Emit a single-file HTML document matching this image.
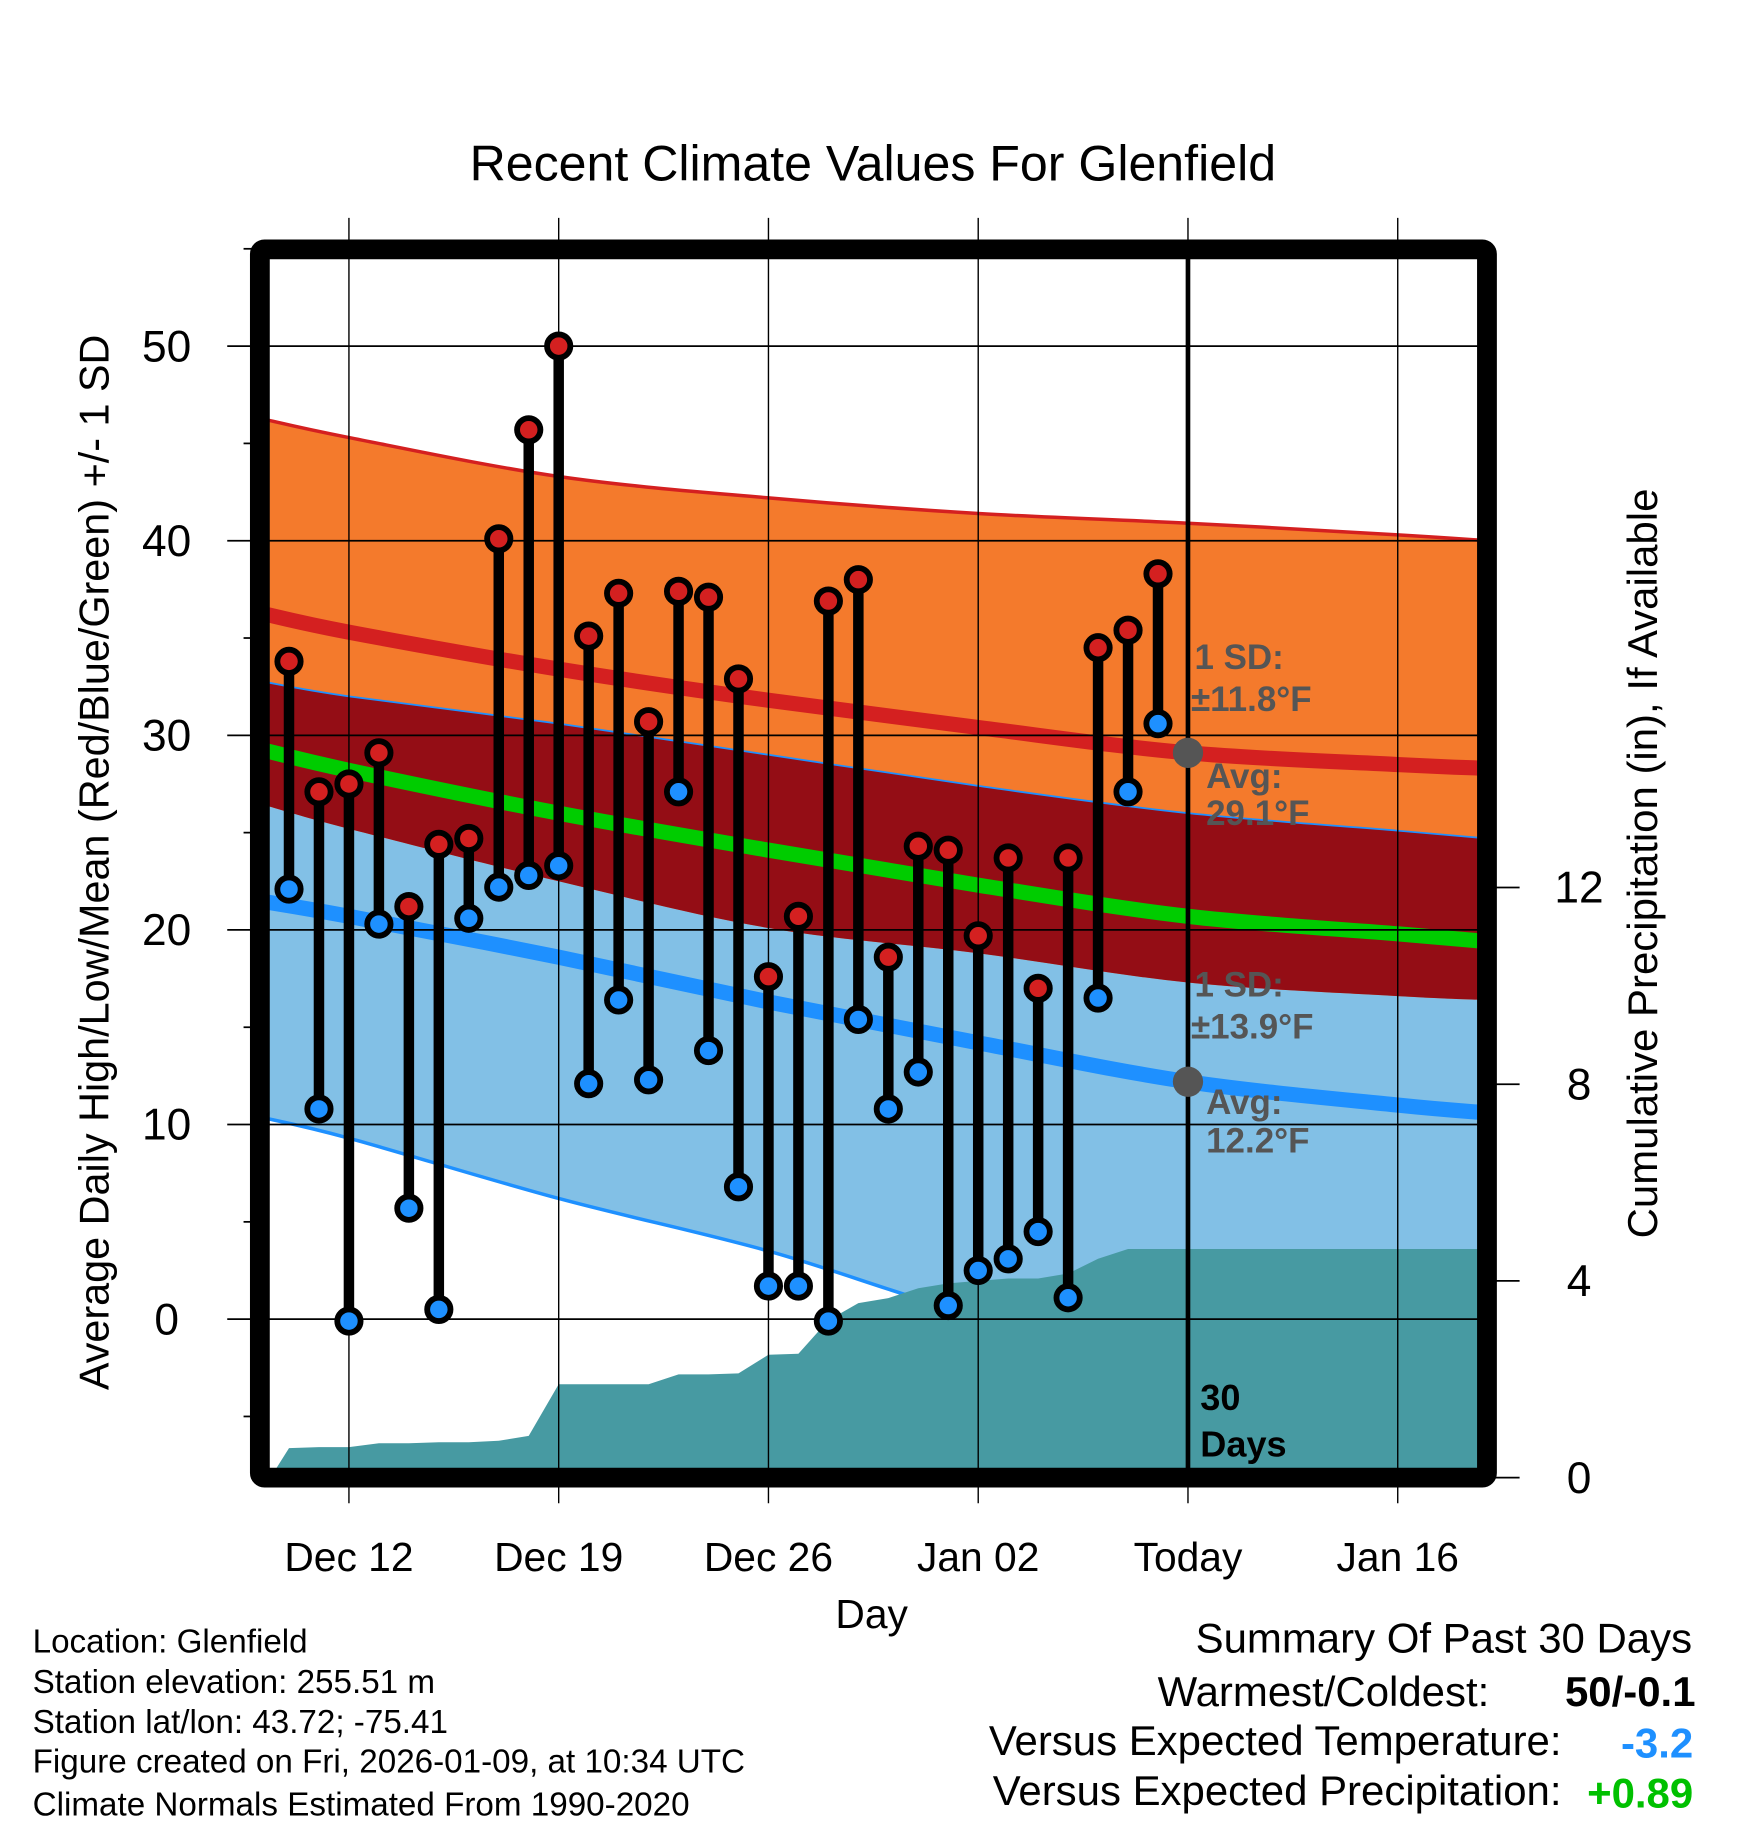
<!DOCTYPE html>
<html><head><meta charset="utf-8"><style>
html,body{margin:0;padding:0;background:#fff;}
svg{display:block;font-family:"Liberation Sans",sans-serif;}
</style></head><body>
<svg id="chart" width="1748" height="1828" viewBox="0 0 1500 1568.65" xmlns="http://www.w3.org/2000/svg">
<defs><clipPath id="plotclip"><rect x="231" y="222" width="1037" height="1038"/></clipPath></defs>
<g id="bands" clip-path="url(#plotclip)"></g>
<g id="grid"></g>
<g id="marks" clip-path="url(#plotclip)"></g>
<rect x="223" y="214" width="1053" height="1054" rx="4" fill="none" stroke="#000" stroke-width="17"/>
<g id="axes"></g>
<text x="749" y="155" font-size="43" text-anchor="middle">Recent Climate Values For Glenfield</text>
<text transform="translate(93,740) rotate(-90)" font-size="35.5" text-anchor="middle">Average Daily High/Low/Mean (Red/Blue/Green) +/- 1 SD</text>
<text transform="translate(1422,741) rotate(-90)" font-size="36" text-anchor="middle">Cumulative Precipitation (in), If Available</text>
<text x="748" y="1397" font-size="35" text-anchor="middle">Day</text>
<g font-size="28.5">
<text x="28" y="1418">Location: Glenfield</text>
<text x="28" y="1453">Station elevation: 255.51 m</text>
<text x="28" y="1487">Station lat/lon: 43.72; -75.41</text>
<text x="28" y="1521">Figure created on Fri, 2026-01-09, at 10:34 UTC</text>
<text x="28" y="1558">Climate Normals Estimated From 1990-2020</text>
</g>
<g font-size="36" text-anchor="end">
<text x="1452" y="1418">Summary Of Past 30 Days</text>
<text x="1278" y="1464">Warmest/Coldest:</text>
<text x="1455" y="1464" font-weight="bold">50/-0.1</text>
<text x="1340" y="1506">Versus Expected Temperature:</text>
<text x="1453" y="1508" font-weight="bold" fill="#1e90ff">-3.2</text>
<text x="1340" y="1549">Versus Expected Precipitation:</text>
<text x="1453" y="1551" font-weight="bold" fill="#00c000">+0.89</text>
</g>
</svg>
<script>
// day index 0 = Dec 10
const highs=[33.8,27.1,27.5,29.1,21.2,24.4,24.7,40.1,45.7,50.0,35.1,37.3,30.7,37.4,37.1,32.9,17.6,20.7,36.9,38.0,18.6,24.3,24.1,19.7,23.7,17.0,23.7,34.5,35.4,38.3];
const lows=[22.1,10.8,-0.1,20.3,5.7,0.5,20.6,22.2,22.8,23.3,12.1,16.4,12.3,27.1,13.8,6.8,1.7,1.7,-0.1,15.4,10.8,12.7,0.7,2.5,3.1,4.5,1.1,16.5,27.1,30.6];
const precip=[0.6,0.62,0.62,0.7,0.7,0.72,0.72,0.75,0.85,1.9,1.9,1.9,1.9,2.1,2.1,2.12,2.5,2.52,3.2,3.55,3.65,3.85,3.95,4.0,4.05,4.05,4.15,4.45,4.65,4.65];
const normDays=[-1,2,9,16,23,30,37,40];
const highPlus=[46.3,45.3,43.3,42.2,41.4,40.9,40.3,40.0];
const highMean=[36.3,35.3,33.4,31.8,30.4,29.1,28.5,28.3];
const highMinus=[26.5,25.2,22.5,20.1,18.8,17.3,16.6,16.4];
const lowPlus=[32.8,32.0,30.6,29.0,27.4,26.0,25.1,24.7];
const lowMean=[21.5,20.7,18.6,16.3,14.2,12.2,11.0,10.6];
const lowMinus=[10.4,9.3,6.2,3.5,0.2,-1.6,-2.7,-3.2];
const meanLine=[29.3,28.2,26.0,24.1,22.3,20.7,19.8,19.4];
const xTickDays=[2,9,16,23,30,37];
const xTickLabels=["Dec 12","Dec 19","Dec 26","Jan 02","Today","Jan 16"];
const yTicks=[0,10,20,30,40,50];
const yMinor=[-5,5,15,25,35,45,55];
const pTicks=[0,4,8,12];
const todayDay=30, todayHigh=29.1, todayLow=12.2;

const NS="http://www.w3.org/2000/svg";
const X=d=>248+d*(180/7);
const Y=t=>1132-t*16.7;
const P=p=>1268-p*42.2;
function mk(tag,attrs,parent){const e=document.createElementNS(NS,tag);for(const k in attrs)e.setAttribute(k,attrs[k]);parent.appendChild(e);return e;}
const bands=document.getElementById('bands'),grid=document.getElementById('grid'),marks=document.getElementById('marks'),axes=document.getElementById('axes');
function segs(pts){let d='';
 for(let i=0;i<pts.length-1;i++){const p0=pts[Math.max(0,i-1)],p1=pts[i],p2=pts[i+1],p3=pts[Math.min(pts.length-1,i+2)];
  d+=' C'+(p1[0]+(p2[0]-p0[0])/6)+','+(p1[1]+(p2[1]-p0[1])/6)+' '+(p2[0]-(p3[0]-p1[0])/6)+','+(p2[1]-(p3[1]-p1[1])/6)+' '+p2[0]+','+p2[1];}
 return d;}
function curve(arr){const pts=normDays.map((d,i)=>[X(d),Y(arr[i])]);return 'M'+pts[0][0]+','+pts[0][1]+segs(pts);}
function rev(arr){const pts=normDays.map((d,i)=>[X(d),Y(arr[i])]).reverse();return ' L'+pts[0][0]+','+pts[0][1]+segs(pts)+' Z';}
let e;
e=mk('path',{d:curve(lowPlus)+rev(lowMinus),fill:'#82c0e6'},bands);

e=mk('path',{d:curve(highPlus)+rev(highMinus),fill:'#f47a2c'},bands);

e=mk('path',{d:curve(lowPlus)+rev(highMinus),fill:'#940d15'},bands);

e=mk('path',{d:curve(lowPlus),fill:'none',stroke:'#1e90ff','stroke-width':1.5},bands);

e=mk('path',{d:curve(lowMinus),fill:'none',stroke:'#1e90ff','stroke-width':3},bands);

e=mk('path',{d:curve(highPlus),fill:'none',stroke:'#d42020','stroke-width':3},bands);

e=mk('path',{d:curve(highMean),fill:'none',stroke:'#d42020','stroke-width':13},bands);

e=mk('path',{d:curve(lowMean),fill:'none',stroke:'#1e90ff','stroke-width':13},bands);

e=mk('path',{d:curve(meanLine),fill:'none',stroke:'#00cc00','stroke-width':13},bands);

let pd='M'+X(-0.62)+','+P(0);
precip.forEach((v,i)=>{pd+=' L'+X(i)+','+P(v);});
pd+=' L'+X(40)+','+P(precip[precip.length-1])+' L'+X(40)+','+P(0)+' Z';
e=mk('path',{d:pd,fill:'#479aa2'},bands);

yTicks.forEach(t=>{e=mk('line',{x1:195,x2:1268,y1:Y(t),y2:Y(t),stroke:'#000','stroke-width':1.5},grid);
 
 e=mk('text',{x:143,y:Y(t)+13,'font-size':38,'text-anchor':'middle'},axes);e.textContent=String(t);
 });
yMinor.forEach(t=>{e=mk('line',{x1:209,x2:222,y1:Y(t),y2:Y(t),stroke:'#000','stroke-width':1.5},grid);
 });
xTickDays.forEach((d,i)=>{e=mk('line',{x1:X(d),x2:X(d),y1:187,y2:1290,stroke:'#000','stroke-width':1.2},grid);
 
 e=mk('text',{x:X(d),y:1348,'font-size':35,'text-anchor':'middle'},axes);e.textContent=xTickLabels[i];
 });
pTicks.forEach(p=>{e=mk('line',{x1:1268,x2:1304,y1:P(p),y2:P(p),stroke:'#000','stroke-width':1.5},axes);
 
 e=mk('text',{x:1355,y:P(p)+13,'font-size':38,'text-anchor':'middle'},axes);e.textContent=String(p);
 });
e=mk('line',{x1:X(todayDay),x2:X(todayDay),y1:218,y2:1262,stroke:'#000','stroke-width':4},marks);

highs.forEach((h,i)=>{const l=lows[i];
 e=mk('line',{x1:X(i),x2:X(i),y1:Y(h),y2:Y(l),stroke:'#000','stroke-width':9},marks);
 });
highs.forEach((h,i)=>{
 e=mk('circle',{cx:X(i),cy:Y(h),r:10,fill:'#d42020',stroke:'#000','stroke-width':5},marks);
 
 e=mk('circle',{cx:X(i),cy:Y(lows[i]),r:10,fill:'#1e90ff',stroke:'#000','stroke-width':5},marks);
 });
e=mk('circle',{cx:X(todayDay),cy:Y(todayHigh),r:13,fill:'#555'},marks);

e=mk('circle',{cx:X(todayDay),cy:Y(todayLow),r:13,fill:'#555'},marks);

const ann=[["1 SD:",1025,574,'high-sd-label'],["±11.8°F",1022,610,'high-sd-value'],["Avg:",1035,676,'high-avg-label'],["29.1°F",1035,708,'high-avg-value'],
["1 SD:",1025,855,'low-sd-label'],["±13.9°F",1022,891,'low-sd-value'],["Avg:",1035,956,'low-avg-label'],["12.2°F",1035,989,'low-avg-value']];
ann.forEach(a=>{e=mk('text',{x:a[1],y:a[2],'font-size':30,'font-weight':'bold',fill:'#555'},marks);e.textContent=a[0];
 });
e=mk('text',{x:1030,y:1210,'font-size':31,'font-weight':'bold',fill:'#000'},marks);e.textContent='30';

e=mk('text',{x:1030,y:1250,'font-size':31,'font-weight':'bold',fill:'#000'},marks);e.textContent='Days';

</script>
</body></html>
